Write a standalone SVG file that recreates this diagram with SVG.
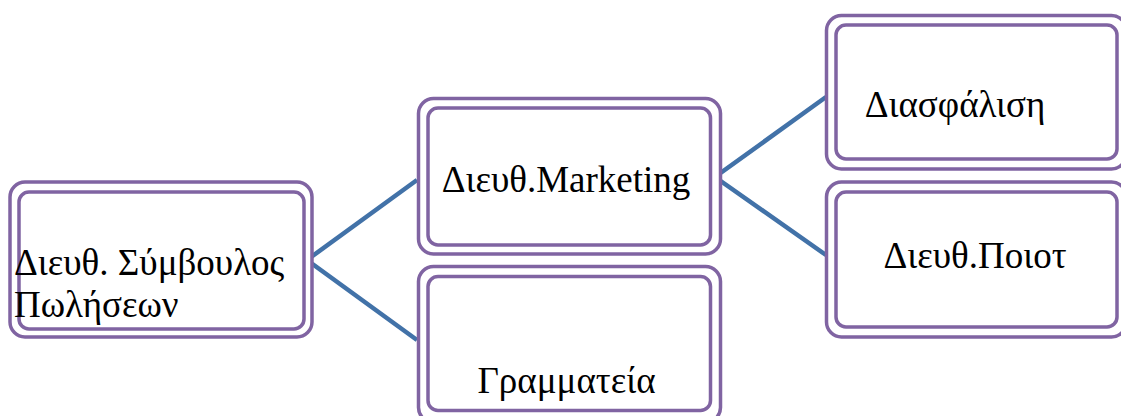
<svg xmlns="http://www.w3.org/2000/svg" width="1121" height="416" viewBox="0 0 1121 416">
<style>
.o{fill:#fff;stroke:#8064A2;stroke-width:3.5}
.i{fill:#fff;stroke:#8064A2;stroke-width:3.5}
.t{font-family:"Liberation Serif","Times New Roman","DejaVu Serif",serif;font-size:37px;fill:#000}
.c{stroke:#4272A8;stroke-width:4.5;fill:none;stroke-linejoin:miter}
</style>
<rect width="1121" height="416" fill="#fff"/>
<g id="connectors">
<polyline class="c" points="417,180 307,260 417,340"/>
<polyline class="c" points="826,97 715,177 826,255"/>
</g>
<g id="n1">
<rect class="o" x="10" y="182" width="302" height="155" rx="15"/>
<rect class="i" x="19" y="192" width="285" height="137" rx="10"/>
<text class="t" x="14" y="275">Διευθ. Σύμβουλος</text>
<text class="t" x="14" y="317">Πωλήσεων</text>
</g>
<g id="n2">
<rect class="o" x="418.5" y="98.5" width="302" height="155.5" rx="15"/>
<rect class="i" x="428" y="108" width="282.5" height="137" rx="10"/>
<text class="t" x="566" y="192" text-anchor="middle">Διευθ.Marketing</text>
</g>
<g id="n3">
<rect class="o" x="418.5" y="266.5" width="302" height="156" rx="15"/>
<rect class="i" x="428" y="276.5" width="282.5" height="134" rx="10"/>
<text class="t" x="566.5" y="393" text-anchor="middle">Γραμματεία</text>
</g>
<g id="n4">
<rect class="o" x="826.5" y="15.5" width="300" height="153.5" rx="15"/>
<rect class="i" x="836" y="25" width="281" height="134" rx="10"/>
<text class="t" x="955" y="117" text-anchor="middle">Διασφάλιση</text>
</g>
<g id="n5">
<rect class="o" x="826.5" y="182" width="300" height="155" rx="15"/>
<rect class="i" x="836" y="192" width="281" height="135" rx="10"/>
<text class="t" x="975" y="268" text-anchor="middle">Διευθ.Ποιοτ</text>
</g>
</svg>
